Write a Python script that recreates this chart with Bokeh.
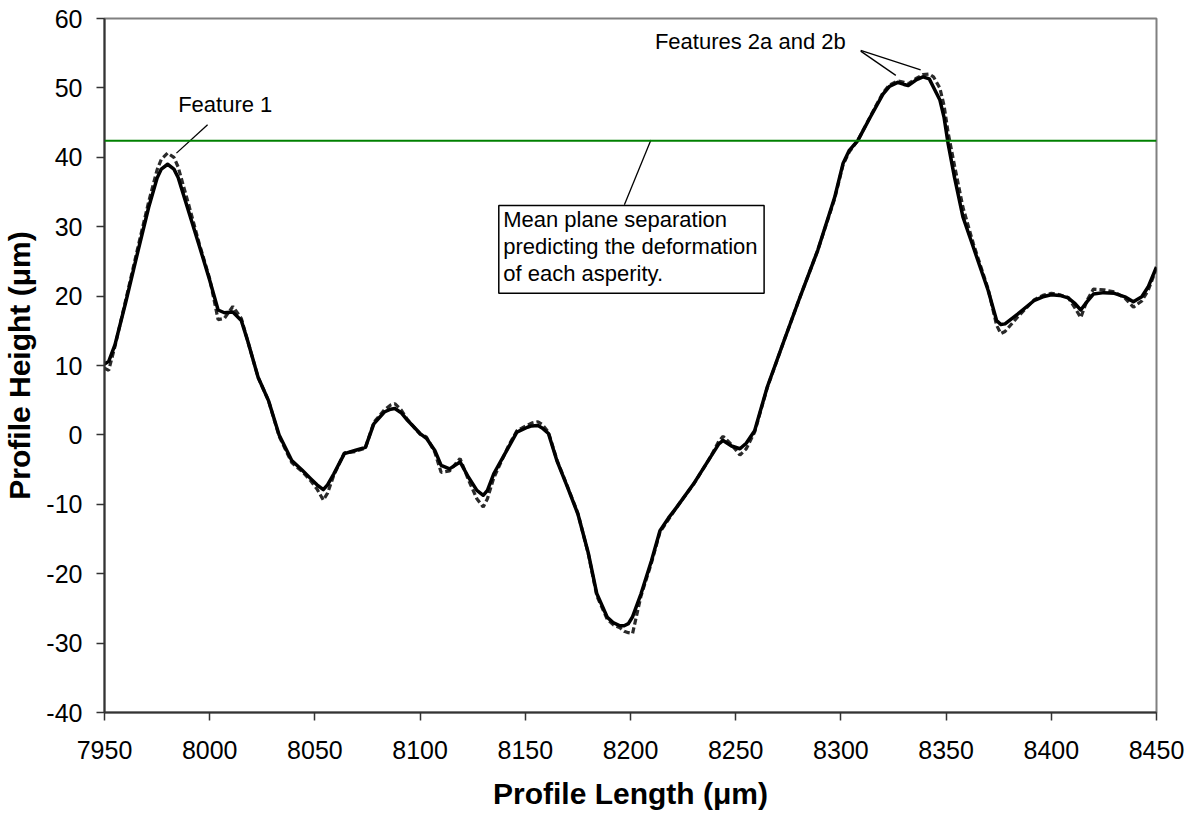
from bokeh.plotting import figure
from bokeh.models import (Span, Label, BoxAnnotation, ColumnDataSource, FixedTicker,
                          PrintfTickFormatter)
from bokeh.embed import file_html
from bokeh.resources import INLINE

# Profile length positions (um)
length = [7950, 7952, 7955, 7960, 7966, 7971, 7975, 7977, 7980, 7983, 7985, 7990,
          7995, 8000, 8004, 8007, 8011, 8015, 8018, 8023, 8028, 8033, 8039, 8044,
          8048, 8051, 8054, 8056, 8059, 8064, 8069, 8074, 8078, 8083, 8086, 8088,
          8091, 8094, 8100, 8103, 8107, 8110, 8114, 8119, 8123, 8127, 8130, 8132,
          8135, 8142, 8146, 8151, 8153, 8156, 8158, 8161, 8165, 8170, 8175, 8180,
          8184, 8189, 8192, 8195, 8197, 8199, 8201, 8205, 8210, 8214, 8218, 8222,
          8230, 8238, 8242, 8244, 8248, 8252, 8255, 8259, 8265, 8273, 8280, 8289,
          8297, 8301, 8304, 8308, 8314, 8320, 8323, 8327, 8330, 8332, 8336, 8339,
          8342, 8344, 8347, 8349, 8351, 8354, 8358, 8363, 8370, 8374, 8376, 8378,
          8384, 8392, 8396, 8400, 8404, 8408, 8411, 8414, 8417, 8420, 8425, 8430,
          8435, 8439, 8443, 8446, 8450]

# Solid profile (heights, um)
profile_solid = [10.2, 10.6, 13.0, 19.0, 26.6, 32.8, 37.0, 38.3, 39.0, 38.3, 37.1, 32.2,
                 27.3, 22.3, 18.0, 17.6, 17.7, 16.5, 13.6, 8.3, 4.9, 0.0, -3.7, -5.1,
                 -6.3, -7.2, -7.9, -7.2, -5.6, -2.7, -2.25, -1.8, 1.6, 3.3, 3.7, 3.8,
                 3.2, 2.1, 0.2, -0.5, -2.25, -4.4, -4.9, -3.9, -6.1, -8.0, -8.7, -8.0,
                 -5.6, -1.8, 0.4, 1.1, 1.3, 1.35, 1.0, 0.2, -3.7, -7.5, -11.4, -17.1,
                 -22.9, -26.3, -27.1, -27.5, -27.5, -27.2, -26.2, -22.9, -18.1, -13.8, -12.0, -10.4,
                 -7.05, -3.2, -1.3, -0.8, -1.6, -2.0, -1.2, 0.6, 6.9, 13.6, 19.4, 26.6,
                 34.2, 39.1, 41.0, 42.4, 45.8, 49.1, 50.2, 50.8, 50.5, 50.35, 51.2, 51.6,
                 51.3, 50.1, 48.3, 45.8, 41.9, 37.1, 31.4, 27.0, 20.8, 16.5, 15.9, 16.0,
                 17.4, 19.4, 19.9, 20.2, 20.1, 19.75, 19.0, 18.0, 19.2, 20.3, 20.5, 20.4,
                 19.9, 19.2, 19.9, 21.3, 24.2]

# Dashed profile (heights, um)
profile_dashed = [9.6, 9.3, 12.8, 19.3, 27.2, 33.6, 38.2, 39.7, 40.6, 40.0, 38.6, 33.2,
                  27.6, 22.5, 16.6, 16.8, 18.5, 16.8, 13.6, 8.3, 4.9, -0.2, -4.0, -5.3,
                  -6.6, -7.8, -9.4, -8.4, -5.8, -2.6, -2.4, -1.9, 1.8, 3.6, 4.3, 4.5,
                  3.6, 2.2, 0.1, -0.3, -2.5, -5.4, -5.2, -3.4, -6.5, -9.2, -10.4, -9.2,
                  -6.2, -1.6, 0.6, 1.4, 1.7, 1.9, 1.5, 0.4, -3.6, -7.4, -11.3, -17.2,
                  -23.2, -26.6, -27.4, -27.8, -28.3, -28.5, -28.6, -23.2, -18.4, -14.0, -12.2, -10.4,
                  -7.1, -3.2, -0.9, -0.2, -1.4, -2.9, -2.0, 0.4, 6.8, 13.6, 19.4, 26.6,
                  34.0, 38.9, 40.8, 42.4, 45.9, 49.3, 50.4, 51.0, 50.8, 50.6, 51.4, 51.9,
                  52.0, 51.6, 50.0, 47.5, 43.5, 38.8, 32.8, 27.5, 21.0, 15.8, 14.6, 14.9,
                  17.0, 19.5, 20.1, 20.4, 20.2, 19.8, 18.4, 16.9, 19.4, 21.0, 20.9, 20.6,
                  19.7, 18.4, 19.3, 20.8, 24.0]

mean_plane = 42.4
x_ticks = [7950, 8000, 8050, 8100, 8150, 8200, 8250, 8300, 8350, 8400, 8450]
y_ticks = [-40, -30, -20, -10, 0, 10, 20, 30, 40, 50, 60]

FONT = "Liberation Sans"

p = figure(width=1194, height=816, output_backend="svg", toolbar_location=None,
           x_range=(7950, 8450), y_range=(-40, 60),
           min_border_left=103, min_border_right=38, min_border_top=18, min_border_bottom=104)
p.background_fill_color = "white"
p.border_fill_color = "white"
p.outline_line_color = "#808080"
p.outline_line_width = 2
p.grid.visible = False

for ax in (p.xaxis[0], p.yaxis[0]):
    ax.axis_line_color = "#333333"
    ax.axis_line_width = 2
    ax.major_tick_line_color = "#333333"
    ax.major_tick_line_width = 1.5
    ax.major_tick_out = 8
    ax.major_tick_in = 0
    ax.minor_tick_line_color = None
    ax.major_label_text_font = FONT
    ax.major_label_text_font_size = "25px"
    ax.major_label_text_color = "black"
    ax.axis_label_text_font = FONT
    ax.axis_label_text_font_style = "bold"
    ax.axis_label_text_font_size = "30px"
    ax.axis_label_text_color = "black"
    ax.formatter = PrintfTickFormatter(format="%d")

p.xaxis.ticker = FixedTicker(ticks=x_ticks)
p.yaxis.ticker = FixedTicker(ticks=y_ticks)
p.xaxis.axis_label = "Profile Length (μm)"
p.yaxis.axis_label = "Profile Height (μm)"
p.xaxis.major_label_standoff = 20
p.yaxis.major_label_standoff = 14
p.xaxis.axis_label_standoff = 15
p.yaxis.axis_label_standoff = 7

# mean plane line
p.add_layout(Span(location=mean_plane, dimension="width", line_color="#008000", line_width=2))

# profiles
p.line(length, profile_dashed, line_color="#2a2a2a", line_width=3.2, line_dash="6 3")
p.line(length, profile_solid, line_color="black", line_width=3.5, line_join="round")

# annotation box
p.add_layout(BoxAnnotation(left=8137.4, right=8263.5, top=33.05, bottom=20.4,
                           fill_color="white", fill_alpha=1.0,
                           line_color="black", line_alpha=1.0, line_width=1.5))
for txt, yy in [("Mean plane separation", 31.0),
                ("predicting the deformation", 27.15),
                ("of each asperity.", 23.3)]:
    p.add_layout(Label(x=8139.5, y=yy, text=txt, text_font=FONT, text_font_size="22px",
                       text_align="left", text_baseline="middle", text_color="black"))

p.add_layout(Label(x=7985, y=47.6, text="Feature 1", text_font=FONT, text_font_size="22px",
                   text_align="left", text_baseline="middle", text_color="black"))
p.add_layout(Label(x=8211.6, y=56.7, text="Features 2a and 2b", text_font=FONT,
                   text_font_size="22px", text_align="left", text_baseline="middle",
                   text_color="black"))

leaders = ColumnDataSource(dict(
    x0=[7999.0, 8309.4, 8309.4, 8197.1],
    y0=[44.7, 55.3, 55.4, 33.15],
    x1=[7984.2, 8326.1, 8337.9, 8209.7],
    y1=[40.6, 51.8, 52.6, 42.5],
))
p.segment("x0", "y0", "x1", "y1", source=leaders, line_color="black", line_width=1.3)

open("out.html", "w").write(file_html(p, INLINE))
